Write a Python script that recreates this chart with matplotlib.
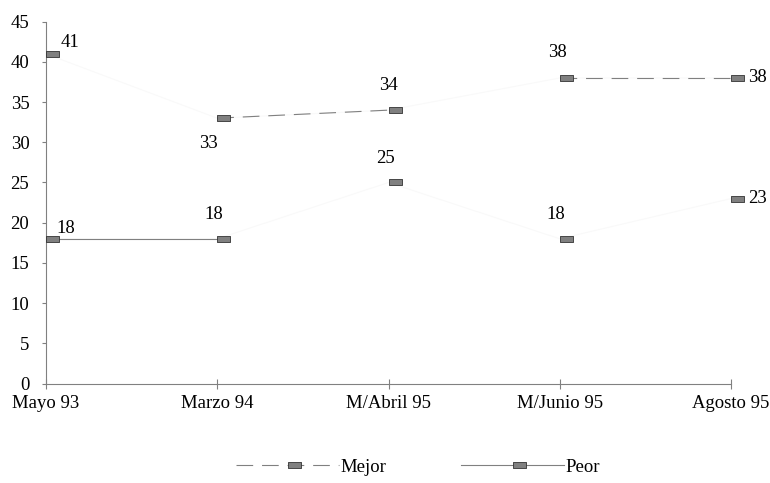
import numpy as np
import matplotlib
matplotlib.use("Agg")
import matplotlib.pyplot as plt
from matplotlib.path import Path

categories = ["Mayo 93", "Marzo 94", "M/Abril 95", "M/Junio 95", "Agosto 95"]
mejor = [41, 33, 34, 38, 38]
peor = [18, 18, 25, 18, 23]

# label offsets in pixels (dx, dy, ha) for each point
mejor_offsets = [(15, 11, "left"), (-9, -25, "center"), (0, 25, "center"),
                 (-2, 25, "center"), (17, 0, "left")]
peor_offsets = [(10, 10, "left"), (-3, 24, "center"), (-3, 24, "center"),
                (-4, 24, "center"), (17, 0, "left")]

plt.rcParams["font.family"] = ["Liberation Serif", "DejaVu Serif"]
plt.rcParams["font.size"] = 13.5

GRAY = "#808080"
FAINT = "#f9f9f9"

# rectangle marker that starts at the data point and extends to the right
rect = Path([(0, -0.25), (1, -0.25), (1, 0.25), (0, 0.25), (0, -0.25)],
            [Path.MOVETO, Path.LINETO, Path.LINETO, Path.LINETO, Path.CLOSEPOLY])
mstyle = dict(marker=rect, markersize=18, markerfacecolor=GRAY,
              markeredgecolor="#333333", markeredgewidth=0.6)

fig = plt.figure(figsize=(7.7, 4.83), dpi=100)
ax = fig.add_axes([46 / 770, 1 - 383.5 / 483, (731 - 46) / 770, (383.5 - 21.7) / 483])

x = np.arange(len(categories))


def draw_series(vals, ls, dashes, label, offsets):
    vals = np.array(vals, dtype=float)
    # faint full line (sloped segments barely visible in the original)
    ax.plot(x, vals, color=FAINT, lw=0.8, zorder=1)
    # visible segments where the series is (nearly) flat
    for i in range(len(vals) - 1):
        if abs(vals[i + 1] - vals[i]) <= 1:
            kw = dict(dashes=dashes) if dashes else {}
            ax.plot(x[i:i + 2], vals[i:i + 2], color=GRAY, lw=0.8, ls=ls,
                    zorder=2, **kw)
    ax.plot(x, vals, ls="none", zorder=3, clip_on=False, **mstyle)
    # legend proxy
    kw = dict(dashes=dashes) if dashes else {}
    ax.plot([], [], color=GRAY, lw=0.8, ls=ls, label=label, **mstyle, **kw)
    for xi, v, (dx, dy, ha) in zip(x, vals, offsets):
        ax.annotate(f"{int(v)}", (xi, v), xytext=(dx * 0.72, dy * 0.72),
                    textcoords="offset points", ha=ha, va="center")


draw_series(mejor, "--", (15, 8), "Mejor", mejor_offsets)
draw_series(peor, "-", None, "Peor", peor_offsets)

ax.set_xlim(0, len(categories) - 1)
ax.set_ylim(0, 45)
ax.set_yticks(np.arange(0, 46, 5))
ax.set_xticks(x)
ax.set_xticklabels(categories)

for s in ["top", "right"]:
    ax.spines[s].set_visible(False)
for s in ["left", "bottom"]:
    ax.spines[s].set_color(GRAY)
    ax.spines[s].set_linewidth(0.8)
ax.tick_params(axis="y", direction="out", length=3, width=0.8, color=GRAY, pad=9)
ax.tick_params(axis="x", direction="inout", length=7, width=0.8, color=GRAY, pad=5)

fig.legend(loc="center", bbox_to_anchor=(0.543, 0.033), ncol=2, frameon=False,
           handlelength=5.5, handletextpad=0.05, columnspacing=4.0)

fig.savefig("out.png", dpi=100)
